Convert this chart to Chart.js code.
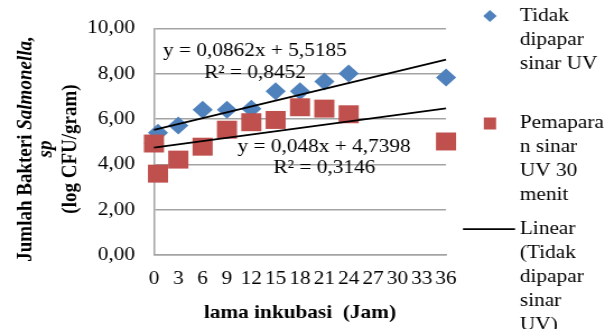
<!DOCTYPE html>
<html><head><meta charset="utf-8">
<script src="https://cdn.jsdelivr.net/npm/chart.js@4/dist/chart.umd.min.js"></script>
<style>
html,body{margin:0;padding:0;background:#fff;overflow:hidden;width:605px;height:329px;}
#wrap{position:absolute;left:0;top:0;width:540px;height:329px;transform:scaleX(1.12037);transform-origin:0 0;}
</style></head><body>
<div id="wrap"><canvas id="c"></canvas></div>
<script>
// ---- data ----
const hours = [0, 0.5, 3, 6, 9, 12, 15, 18, 21, 24, 36];
const tidakDipapar = [4.92, 5.39, 5.71, 6.41, 6.41, 6.45, 7.23, 7.23, 7.66, 8.01, 7.83];
const pemaparanUV30 = [4.92, 3.59, 4.21, 4.78, 5.53, 5.86, 5.96, 6.52, 6.46, 6.21, 5.01];
const trendSlopes = [0.0862, 0.048];
const trendIntercepts = [5.5185, 4.7398];
const trendRange = [0, 36];
const xTickLabels = ['0','3','6','9','12','15','18','21','24','27','30','33','36'];
const yTickLabels = ['0,00','2,00','4,00','6,00','8,00','10,00'];
const equationTexts = [['y = 0,0862x + 5,5185', 'R² = 0,8452'], ['y = 0,048x + 4,7398', 'R² = 0,3146']];
const legendLabels = [['Tidak','dipapar','sinar UV'], ['Pemapara','n sinar','UV 30','menit'], ['Linear','(Tidak','dipapar','sinar','UV)']];
const xTitle = 'lama inkubasi  (Jam)';
const yTitleLines = [[['Jumlah Bakteri ', false], ['Salmonella,', true]], [['sp', true]], [['(log CFU/gram)', false]]];

// ---- styles ----
const FONT = "'Liberation Serif', 'Times New Roman', serif";
const FS = 19;
const BLUE = '#4F81BD', RED = '#C0504D', GRID = '#a3a3a3';

function pts(xs, ys) { return xs.map((x, i) => ({x: x, y: ys[i]})); }
function trend(k) { return trendRange.map(x => ({x: x, y: trendSlopes[k] * x + trendIntercepts[k]})); }

const eqAnchors = [[{x: 12.45, y: 9.02}, {x: 12.45, y: 8.01}], [{x: 20.96, y: 4.78}, {x: 21.0, y: 3.83}]];

const eqPlugin = {
  id: 'eqPlugin',
  afterDatasetsDraw(chart) {
    const ctx = chart.ctx, xs = chart.scales.x, ys = chart.scales.y;
    ctx.save();
    ctx.font = FS + 'px ' + FONT;
    ctx.fillStyle = '#000';
    ctx.textAlign = 'center';
    ctx.textBaseline = 'middle';
    equationTexts.forEach((g, gi) => g.forEach((t, li) => {
      const a = eqAnchors[gi][li];
      ctx.fillText(t, xs.getPixelForValue(a.x), ys.getPixelForValue(a.y));
    }));
    ctx.restore();
  }
};

const yTitlePlugin = {
  id: 'yTitlePlugin',
  afterDraw(chart) {
    const ctx = chart.ctx;
    const baselines = [28, 45.5, 68];
    const cy = 149;
    ctx.save();
    ctx.fillStyle = '#000';
    ctx.textBaseline = 'alphabetic';
    ctx.textAlign = 'left';
    yTitleLines.forEach((segs, i) => {
      let total = 0;
      segs.forEach(s => { ctx.font = (s[1] ? 'italic ' : '') + 'bold ' + FS + 'px ' + FONT; total += ctx.measureText(s[0]).width; });
      ctx.save();
      ctx.translate(baselines[i], cy);
      ctx.rotate(-Math.PI / 2);
      let x = -total / 2;
      segs.forEach(s => {
        ctx.font = (s[1] ? 'italic ' : '') + 'bold ' + FS + 'px ' + FONT;
        ctx.fillText(s[0], x, 0);
        x += ctx.measureText(s[0]).width;
      });
      ctx.restore();
    });
    ctx.restore();
  }
};

const legendPlugin = {
  id: 'legendPlugin',
  afterDraw(chart) {
    const ctx = chart.ctx;
    const markerX = 437.3, textX = 464, lh = 24;
    const starts = [16, 123.5, 229];
    ctx.save();
    ctx.fillStyle = BLUE;
    ctx.beginPath();
    ctx.moveTo(markerX - 6, starts[0]); ctx.lineTo(markerX, starts[0] - 6);
    ctx.lineTo(markerX + 6, starts[0]); ctx.lineTo(markerX, starts[0] + 6);
    ctx.closePath(); ctx.fill();
    ctx.fillStyle = RED;
    ctx.fillRect(markerX - 5.5, starts[1] - 6, 11, 12);
    ctx.strokeStyle = '#000'; ctx.lineWidth = 1.75;
    ctx.beginPath(); ctx.moveTo(413.2, starts[2]); ctx.lineTo(459.7, starts[2]); ctx.stroke();
    ctx.font = FS + 'px ' + FONT;
    ctx.fillStyle = '#000';
    ctx.textAlign = 'left';
    ctx.textBaseline = 'middle';
    legendLabels.forEach((lines, gi) => lines.forEach((t, li) => {
      ctx.fillText(t, textX, starts[gi] + li * lh);
    }));
    ctx.restore();
  }
};

Chart.defaults.font.family = FONT;
Chart.defaults.color = '#000';

new Chart(document.getElementById('c'), {
  type: 'scatter',
  data: {
    datasets: [
      {label: 'Linear (Tidak dipapar sinar UV)', data: trend(0), showLine: true, borderColor: '#000', borderWidth: 1.75, pointRadius: 0, fill: false, order: 0, clip: false},
      {label: 'Linear (Pemaparan sinar UV 30 menit)', data: trend(1), showLine: true, borderColor: '#000', borderWidth: 1.75, pointRadius: 0, fill: false, order: 0, clip: false},
      {label: 'Pemaparan sinar UV 30 menit', data: pts(hours, pemaparanUV30), pointStyle: 'rect', pointRadius: 12.7, pointHoverRadius: 12.7, backgroundColor: RED, borderWidth: 0, order: 1, clip: false},
      {label: 'Tidak dipapar sinar UV', data: pts(hours, tidakDipapar), pointStyle: 'rectRot', pointRadius: 9, pointHoverRadius: 9, backgroundColor: BLUE, borderWidth: 0, order: 2, clip: false}
    ]
  },
  options: {
    responsive: true,
    maintainAspectRatio: false,
    animation: false,
    events: [],
    layout: {padding: {top: 20, right: 141.9, bottom: 0, left: 0}},
    plugins: {legend: {display: false}, tooltip: {enabled: false}},
    scales: {
      x: {
        type: 'linear', min: 0, max: 36,
        ticks: {stepSize: 3, autoSkip: false, maxRotation: 0, padding: 13, color: '#000', font: {size: FS},
          callback: (v, i) => xTickLabels[i]},
        grid: {display: false, drawTicks: false},
        border: {display: true, color: GRID, width: 1.5},
        title: {display: true, text: xTitle, color: '#000', font: {size: FS, weight: 'bold'}, padding: {top: 0, bottom: 5}},
        afterFit: s => { s.height = 74; }
      },
      y: {
        type: 'linear', min: 0, max: 10,
        ticks: {stepSize: 2, padding: 17, color: '#000', font: {size: FS}, callback: (v, i) => yTickLabels[i]},
        grid: {color: GRID, lineWidth: 1.5, drawTicks: false},
        border: {display: true, color: GRID, width: 1.5},
        afterFit: s => { s.width = 137.4; }
      }
    }
  },
  plugins: [eqPlugin, yTitlePlugin, legendPlugin]
});
</script>
</body></html>
